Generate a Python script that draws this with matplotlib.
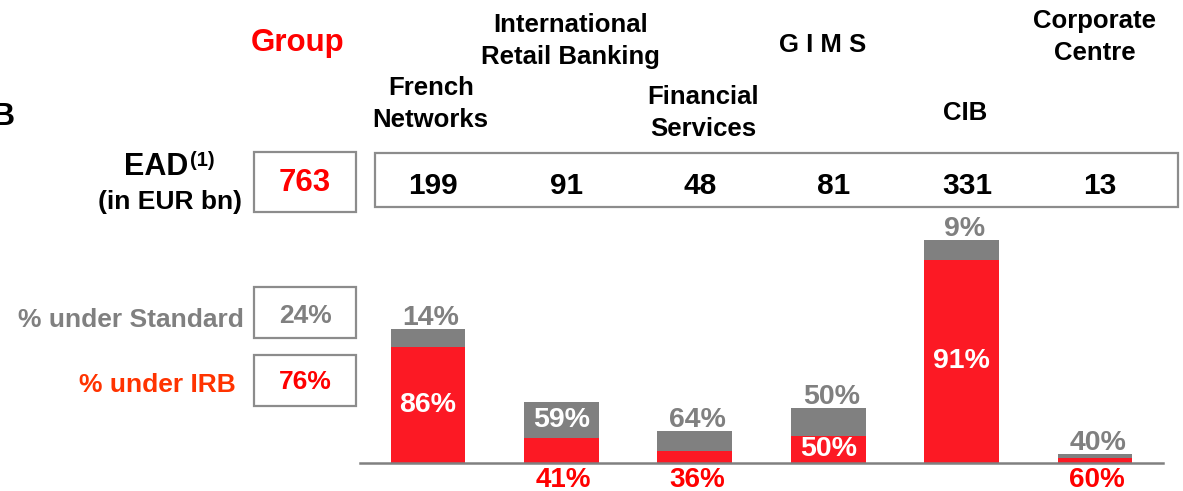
import matplotlib
matplotlib.use("Agg")
import matplotlib.pyplot as plt
from matplotlib.patches import Rectangle
import matplotlib.transforms as mtransforms

# data
segments = ["French\nNetworks", "International\nRetail Banking", "Financial\nServices",
            "G I M S", "CIB", "Corporate\nCentre"]
ead = [199, 91, 48, 81, 331, 13]
irb_pct = [86, 41, 36, 50, 91, 60]
std_pct = [14, 59, 64, 50, 9, 40]
group_ead = 763
group_std = 24
group_irb = 76

# label placement for each bar
irb_label_pos = ["in", "below", "below", "in", "in", "below"]
std_label_pos = ["above", "in", "above", "above", "above", "above"]

RED_BAR = "#FC1924"
GREY_BAR = "#808080"
RED_TXT = "#FF0000"
GREY_TXT = "#808080"

plt.rcParams["font.family"] = ["Liberation Sans", "DejaVu Sans"]
plt.rcParams["font.weight"] = "bold"

W, H = 1183, 491
fig = plt.figure(figsize=(W / 100, H / 100), dpi=100)


def fx(x):
    return x / W


def fy(y):
    return 1 - y / H


def ptext(x, y, s, **kw):
    kw.setdefault("ha", "center")
    kw.setdefault("va", "center")
    kw.setdefault("fontweight", "bold")
    fig.text(fx(x), fy(y), s, **kw)


def box(x0, y0, x1, y1):
    fig.add_artist(Rectangle((fx(x0), fy(y1)), fx(x1 - x0), (y1 - y0) / H,
                             transform=fig.transFigure, fill=False,
                             edgecolor="#8C8C8C", linewidth=1.6))


# bar axes
ax = fig.add_axes([fx(360), 28 / H, 803 / W, 229.5 / H])
x = list(range(len(ead)))
red_h = [e * p / 100 for e, p in zip(ead, irb_pct)]
grey_h = [e * p / 100 for e, p in zip(ead, std_pct)]
ax.bar(x, red_h, width=0.56, color=RED_BAR, linewidth=0)
ax.bar(x, grey_h, bottom=red_h, width=0.56, color=GREY_BAR, linewidth=0)
ax.set_xlim(-0.51, 5.51)
ax.set_ylim(0, 340)
for s in ["top", "left", "right"]:
    ax.spines[s].set_visible(False)
ax.spines["bottom"].set_color("#808080")
ax.spines["bottom"].set_linewidth(1.8)
ax.set_xticks([])
ax.set_yticks([])

for i in x:
    # standard share
    if std_label_pos[i] == "above":
        ax.annotate(f"{std_pct[i]}%", (i, red_h[i] + grey_h[i]), xytext=(3, -2),
                    textcoords="offset pixels", ha="center", va="bottom",
                    color=GREY_TXT, fontsize=20.5, fontweight="bold")
    else:
        ax.text(i, red_h[i] + grey_h[i] / 2, f"{std_pct[i]}%", ha="center",
                va="center", color="white", fontsize=20.5, fontweight="bold")
    # IRB share
    if irb_label_pos[i] == "in":
        ax.text(i, red_h[i] / 2, f"{irb_pct[i]}%", ha="center", va="center",
                color="white", fontsize=20.5, fontweight="bold")
    else:
        ax.annotate(f"{irb_pct[i]}%", (i, 0), xytext=(2, -4),
                    textcoords="offset pixels", ha="center", va="top",
                    color=RED_TXT, fontsize=20, fontweight="bold")

# headers and EAD row, x from data, y in figure
blend = mtransforms.blended_transform_factory(ax.transData, fig.transFigure)
header_y = [104, 41, 113, 45, 113, 37]
header_dx = [0.02, 0.07, 0.06, -0.04, 0.03, 0.0]
for i in x:
    ax.text(i + header_dx[i], fy(header_y[i]), segments[i], transform=blend,
            ha="center", va="center", fontsize=18.5, fontweight="bold",
            linespacing=1.42, clip_on=False)
    ax.text(i + 0.04, fy(186), str(ead[i]), transform=blend, ha="center",
            va="center", fontsize=21.5, fontweight="bold", clip_on=False)

ptext(298, 43, "Group", color=RED_TXT, fontsize=22.5)
ptext(-8, 117, "B", ha="left", fontsize=23)

box(254, 152, 356, 212)
box(375, 153, 1178, 207)
ptext(305, 183, str(group_ead), color=RED_TXT, fontsize=22.5)

ptext(188, 167, "EAD", ha="right", fontsize=22)
ptext(190, 160, "(1)", ha="left", fontsize=14.5)
ptext(242, 202, "(in EUR bn)", ha="right", fontsize=19)

box(254, 287, 356, 338)
box(254, 355, 356, 406)
ptext(244, 320, "% under Standard", ha="right", color=GREY_TXT, fontsize=19)
ptext(305, 316, f"{group_std}%", color=GREY_TXT, fontsize=19)
ptext(236, 385, "% under IRB", ha="right", color="#FF3300", fontsize=19)
ptext(305, 382, f"{group_irb}%", color=RED_TXT, fontsize=19)

fig.savefig("out.png", dpi=100)
